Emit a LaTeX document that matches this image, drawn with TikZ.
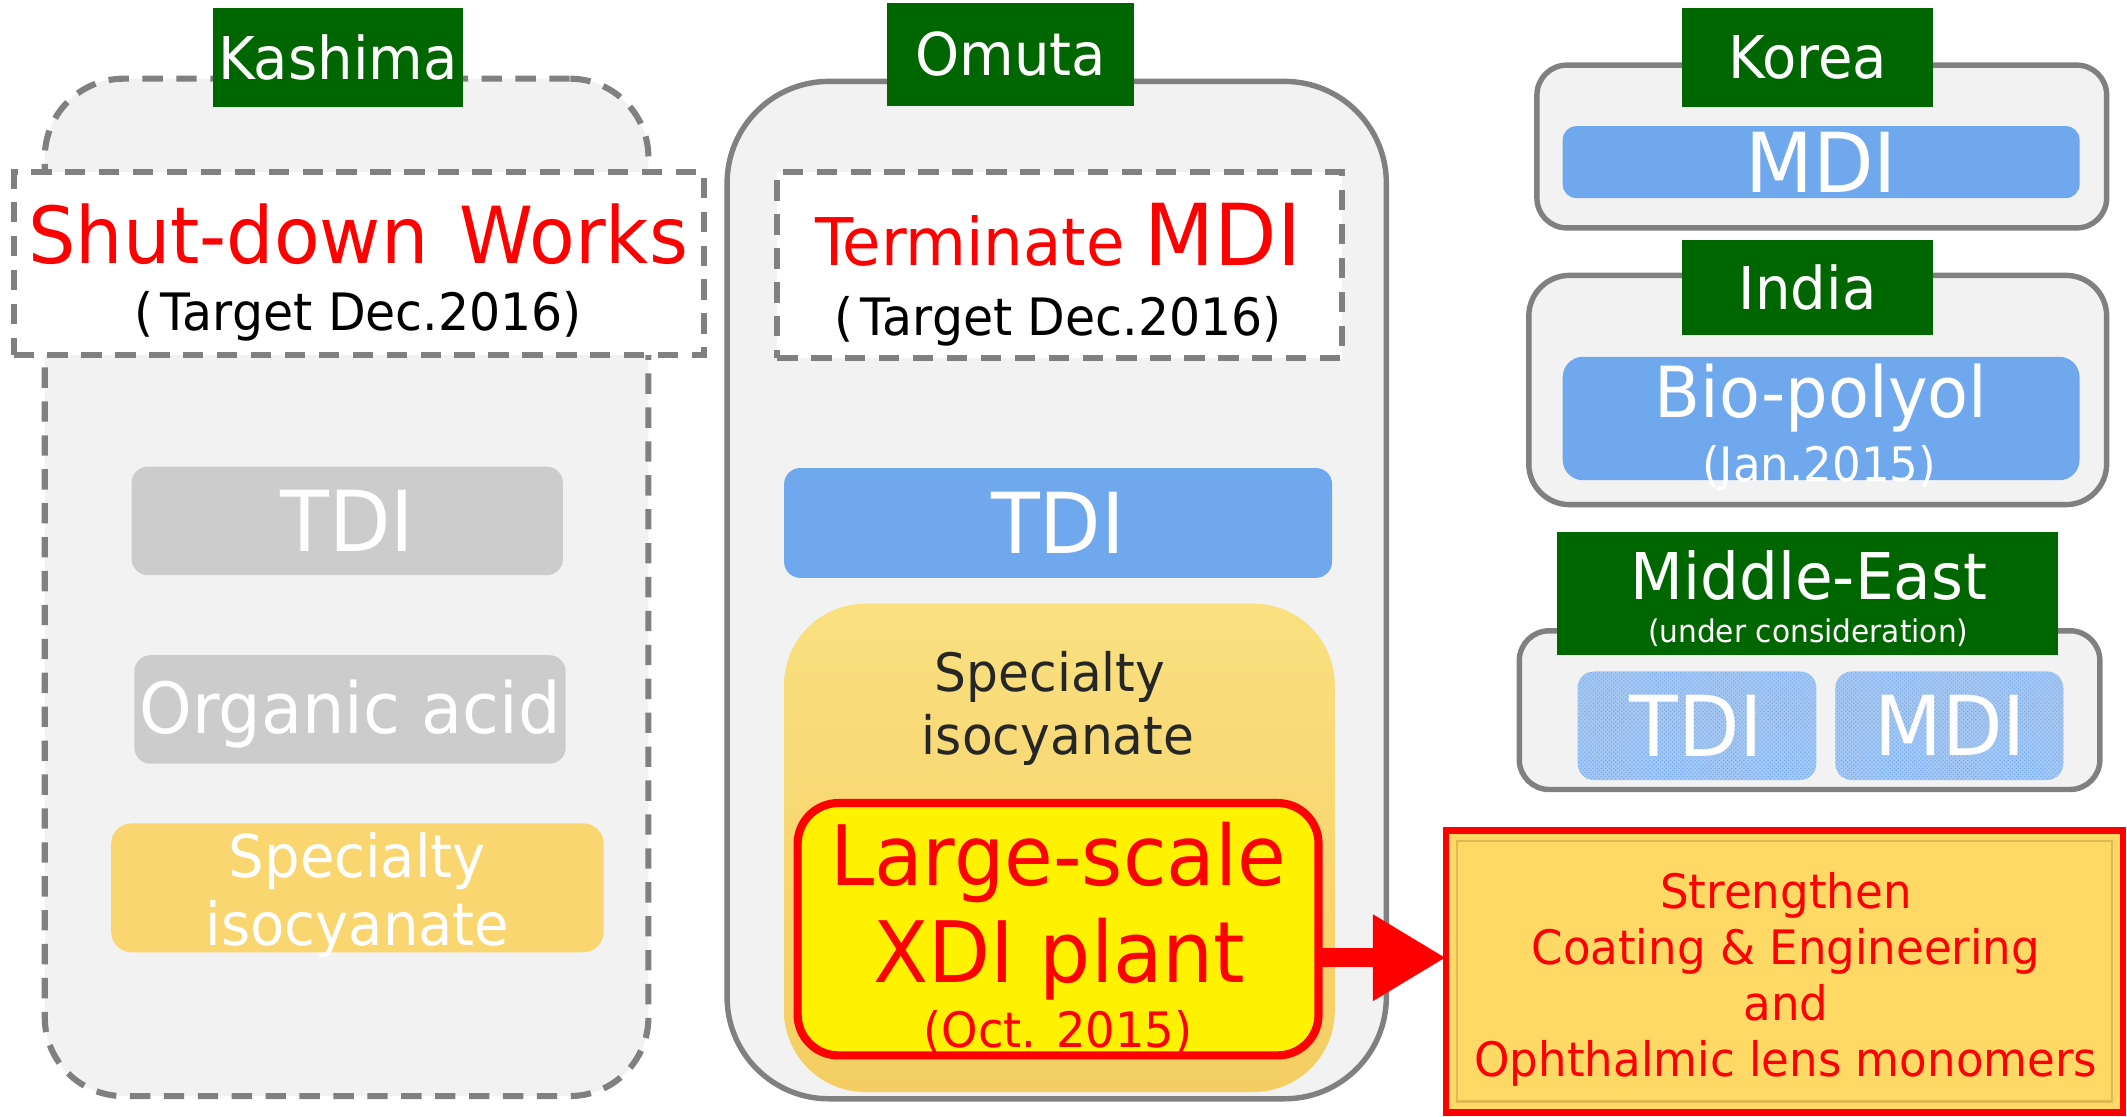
\documentclass[tikz,border=0pt]{standalone}
\usepackage{fontspec}
\setmainfont{DejaVu Sans}[FakeStretch=0.95]
\usetikzlibrary{arrows.meta,patterns}
\definecolor{sitegreen}{RGB}{0,102,0}
\definecolor{panelgray}{RGB}{242,242,242}
\definecolor{edgegray}{RGB}{128,128,128}
\definecolor{prodblue}{RGB}{111,168,236}
\definecolor{paleblue}{RGB}{163,198,243}
\definecolor{oldgray}{RGB}{204,204,204}
\definecolor{paleyellow}{RGB}{249,214,112}
\definecolor{gold}{RGB}{255,217,102}
\definecolor{goldedge}{RGB}{224,186,80}
\definecolor{specialtop}{RGB}{250,224,128}
\definecolor{specialmid}{RGB}{249,215,112}
\definecolor{specialbottom}{RGB}{244,206,98}
\definecolor{darktext}{RGB}{38,38,38}

\begin{document}
\begin{tikzpicture}[
  x=1pt, y=-1pt,
  every node/.style = {inner sep=0pt, outer sep=0pt},
  panel/.style = {draw=edgegray, line width=4pt, fill=panelgray, rounded corners=#1},
  panel/.default = 22pt,
  gappanel/.style = {panel=#1, line width=4.5pt, dash pattern=on 15pt off 10pt},
  plan/.style = {draw=edgegray, line width=4.5pt, fill=white, dash pattern=on 15pt off 10pt},
  site/.style = {fill=sitegreen, text=white, font=\fontsize{43.5}{52}\selectfont},
  prod/.style = {fill=prodblue, text=white, rounded corners=#1},
  prod/.default = 12pt,
  oldprod/.style = {fill=oldgray, text=white, rounded corners=12pt},
  plannedprod/.style = {fill=paleblue, rounded corners=12pt, postaction={pattern=crosshatch dots, pattern color=prodblue}},
  push/.style = {draw=red, line width=14pt, -{Triangle[length=54pt, width=60pt]}}
]
  \useasboundingbox (0,0) rectangle (1568,823);

  \node[gappanel=58pt, minimum width=445pt, minimum height=750pt] (kashimabox) at (255.5,433) {};
  \node[plan, minimum width=509pt, minimum height=135pt] (kashimaplan) at (264.5,194.5) {};
  \node[site, minimum width=184pt, minimum height=73pt] (kashima) at (249,42.5) {Kashima};
  \node[anchor=base, text=red, font=\fontsize{58}{70}\selectfont] (kashimashut) at (264,194) {Shut-down\hspace{0.4em}Works};
  \node[anchor=base, font=\fontsize{38}{46}\selectfont] (kashimadate) at (264,244) {(\hspace{0.15em}Target Dec.2016)};
  \node[oldprod, minimum width=318pt, minimum height=80pt, font=\fontsize{62}{70}\selectfont] (kashimatdi) at (256,384) {TDI};
  \node[oldprod, minimum width=318pt, minimum height=80pt] (kashimaacid) at (258,523) {};
  \node[anchor=base, text=white, font=\fontsize{52}{60}\selectfont] (kashimaacidtext) at (258,541) {Organic acid};
  \node[fill=paleyellow, rounded corners=15pt, minimum width=363pt, minimum height=95pt] (kashimaspec) at (263.5,654.5) {};
  \node[anchor=base, text=white, font=\fontsize{43.5}{50}\selectfont] (kashimaspecone) at (263.5,647) {Specialty};
  \node[anchor=base, text=white, font=\fontsize{43.5}{50}\selectfont] (kashimaspectwo) at (263.5,697) {isocyanate};

  \node[panel=75pt, minimum width=486pt, minimum height=750pt] (omutabox) at (779,435) {};
  \node[plan, minimum width=416pt, minimum height=137pt] (omutaplan) at (781,195.5) {};
  \node[site, minimum width=182pt, minimum height=76pt] (omuta) at (745,40) {Omuta};
  \node[anchor=base, text=red, font=\fontsize{48.5}{56}\selectfont] (omutastop) at (780,196) {Terminate {\fontsize{63}{70}\selectfont MDI}};
  \node[anchor=base, font=\fontsize{38}{46}\selectfont] (omutadate) at (780,247.5) {(\hspace{0.15em}Target Dec.2016)};
  \node[prod, minimum width=404pt, minimum height=81pt, font=\fontsize{62}{70}\selectfont] (omutatdi) at (780,385.5) {TDI};
  \node[rounded corners=60pt, top color=specialtop, middle color=specialmid, bottom color=specialbottom, minimum width=406pt, minimum height=360pt] (omutaspec) at (781,625) {};
  \node[anchor=base, text=darktext, font=\fontsize{39}{46}\selectfont] (omutaspecone) at (774,510) {Specialty};
  \node[anchor=base, text=darktext, font=\fontsize{39}{46}\selectfont] (omutaspectwo) at (780,556) {isocyanate};
  \node[draw=red, line width=6pt, fill=yellow, rounded corners=30pt, minimum width=384pt, minimum height=186pt] (xdi) at (780,685) {};
  \node[anchor=base, text=red, font=\fontsize{61.5}{70}\selectfont] (xdione) at (780,653) {Large-scale};
  \node[anchor=base, text=red, font=\fontsize{62.5}{70}\selectfont] (xditwo) at (781,724) {XDI plant};
  \node[anchor=base, text=red, font=\fontsize{36}{44}\selectfont] (xdithree) at (780,772) {(Oct. 2015)};

  \node[panel=22pt, minimum width=420pt, minimum height=120pt] (koreabox) at (1343,108) {};
  \node[prod=10pt, minimum width=381pt, minimum height=53pt, font=\fontsize{61}{70}\selectfont] (koreamdi) at (1342.5,119.5) {MDI};
  \node[site, minimum width=185pt, minimum height=73pt] (korea) at (1332.5,42.5) {Korea};

  \node[panel=30pt, minimum width=426pt, minimum height=169pt] (indiabox) at (1340,287.5) {};
  \node[site, minimum width=185pt, minimum height=70pt] (india) at (1332.5,212) {India};
  \node[prod=15pt, minimum width=381pt, minimum height=91pt] (indiabio) at (1342.5,308.5) {};
  \node[anchor=base, text=white, font=\fontsize{52}{60}\selectfont] (indiabione) at (1342.5,308) {Bio-polyol};
  \node[anchor=base, text=white, font=\fontsize{35}{42}\selectfont] (indiabiotwo) at (1341,355) {(Jan.2015)};

  \node[panel=22pt, minimum width=428pt, minimum height=117pt] (eastbox) at (1334,523.5) {};
  \node[site, minimum width=369pt, minimum height=91pt] (east) at (1332.5,437.5) {};
  \node[anchor=base, text=white, font=\fontsize{47.5}{54}\selectfont] (eastname) at (1333.5,442) {Middle-East};
  \node[anchor=base, text=white, font=\fontsize{23}{28}\selectfont] (eastnote) at (1333,474) {(under consideration)};
  \node[plannedprod, minimum width=176pt, minimum height=80pt] (easttdi) at (1251,535) {};
  \node[plannedprod, minimum width=168pt, minimum height=80pt] (eastmdi) at (1437,535) {};
  \node[text=white, font=\fontsize{62}{70}\selectfont] (easttditext) at (1250.5,535) {TDI};
  \node[text=white, font=\fontsize{61}{70}\selectfont] (eastmditext) at (1437.5,535) {MDI};

  \node[draw=red, line width=5pt, fill=gold, minimum width=499pt, minimum height=208pt] (strength) at (1315.5,716) {};
  \node[draw=goldedge, line width=1.5pt, minimum width=483pt, minimum height=192pt] (strengthframe) at (strength.center) {};
  \node[anchor=north, align=center, text=red, font=\fontsize{35}{41.3}\selectfont] (strengthtext) at (1316.5,643) {Strengthen\\Coating \& Engineering\\and\\Ophthalmic lens monomers};

  \coordinate (arrowline) at (0,706);
  \draw[push] (xdi.east |- arrowline) -- (strength.west |- arrowline);
\end{tikzpicture}
\end{document}
